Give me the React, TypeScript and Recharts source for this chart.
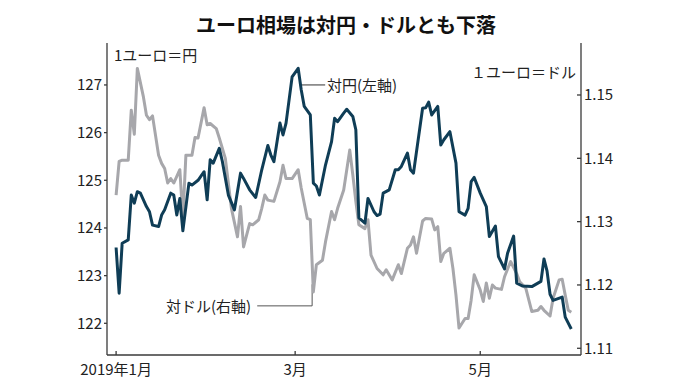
import { LineChart, Line, XAxis, YAxis, ReferenceLine } from "recharts";

// days counted from 2019-01-01
const yenDays = [
  0, 1, 2, 4, 5, 6, 7, 8, 10, 11,
  12, 14, 15, 16, 18, 19, 20, 21, 22, 24,
  25, 27, 29, 30, 31, 32, 34, 35, 37, 39,
  41, 42, 44, 46, 48, 50, 51, 52, 54, 55,
  56, 58, 60, 61, 62, 64, 65, 66, 67, 69,
  71, 72, 73, 75, 76, 78, 79, 80, 82, 83,
  85, 86, 87, 88, 90, 92, 93, 94, 96, 97,
  98, 101, 102, 103, 104, 106, 107, 108, 110, 112,
  113, 115, 116, 117, 118, 120, 121, 122, 123, 125,
  126, 128, 129, 131, 132, 134, 137, 140, 141, 142,
  143, 144, 147, 148, 150,
];
const yenValues = [
  123.59, 122.63, 123.68, 123.75, 124.69, 124.52, 124.76, 124.73, 124.45, 124.34,
  124.06, 124.03, 124.27, 124.38, 124.73, 124.69, 124.27, 124.62, 123.94, 124.94,
  124.9, 125.0, 125.18, 124.59, 125.43, 125.36, 125.67, 125.4, 124.69, 124.38,
  125.15, 125.04, 124.8, 124.64, 125.22, 125.73, 125.53, 125.39, 126.2, 125.95,
  126.2, 127.17, 127.35, 126.9, 126.55, 126.37, 124.94, 124.88, 124.69, 125.32,
  125.81, 126.3, 126.23, 126.41, 126.49, 126.34, 126.06, 124.21, 124.1, 124.62,
  124.34, 124.26, 124.29, 124.73, 124.8, 125.22, 125.22, 125.29, 125.57, 125.22,
  125.15, 126.51, 126.52, 126.64, 126.37, 126.55, 125.74, 125.85, 126.02, 125.36,
  124.34, 124.27, 124.41, 124.97, 125.06, 124.73, 124.59, 124.45, 123.82, 124.04,
  123.4, 123.14, 123.47, 123.83, 122.84, 122.78, 122.77, 122.88, 123.35, 123.1,
  122.61, 122.48, 122.55, 122.13, 121.88,
];

const usdDays = [
  0, 1, 2, 4, 5, 6, 7, 9, 10, 11,
  12, 14, 15, 16, 17, 18, 19, 21, 22, 23,
  25, 26, 27, 29, 30, 31, 33, 34, 36, 38,
  40, 41, 42, 44, 45, 47, 48, 49, 50, 52,
  54, 55, 56, 58, 60, 61, 63, 64, 65, 66,
  68, 69, 71, 72, 73, 75, 77, 78, 79, 80,
  82, 83, 84, 86, 88, 89, 91, 93, 94, 96,
  97, 98, 99, 101, 102, 104, 105, 106, 107, 108,
  110, 111, 112, 113, 115, 116, 117, 118, 120, 121,
  122, 123, 124, 125, 127, 128, 130, 132, 133, 135,
  137, 139, 140, 141, 143, 144, 146, 147, 148, 149,
  150,
];
const usdValues = [
  1.1342, 1.1395, 1.1397, 1.1397, 1.1476, 1.1438, 1.1542, 1.1497, 1.1468, 1.1461,
  1.1467, 1.1405, 1.1392, 1.1384, 1.1361, 1.1368, 1.1361, 1.1382, 1.1305, 1.1405,
  1.1405, 1.1433, 1.1432, 1.148, 1.1453, 1.1455, 1.1447, 1.1432, 1.14, 1.1321,
  1.1276, 1.1324, 1.126, 1.1297, 1.1295, 1.1303, 1.1321, 1.1342, 1.1334, 1.1332,
  1.1363, 1.1389, 1.1368, 1.1368, 1.1382, 1.1353, 1.1305, 1.1303, 1.1189, 1.1232,
  1.1239, 1.1268, 1.1316, 1.1303, 1.1321, 1.135, 1.1413, 1.1374, 1.1332, 1.1295,
  1.1289, 1.1303, 1.1247, 1.1226, 1.1216, 1.1224, 1.1208, 1.1232, 1.1218, 1.1258,
  1.1263, 1.1276, 1.125, 1.1301, 1.1305, 1.1304, 1.1287, 1.1292, 1.1237, 1.125,
  1.1258, 1.1226, 1.1184, 1.1132, 1.1147, 1.1147, 1.1176, 1.1216, 1.1192, 1.1174,
  1.1203, 1.1179, 1.12, 1.1195, 1.1193, 1.1213, 1.1237, 1.1218, 1.1205, 1.1195,
  1.1158, 1.116, 1.1166, 1.116, 1.1151, 1.1179, 1.1208, 1.1209, 1.1184, 1.116,
  1.1157,
];

const xTickDays = [0, 59, 120];
const xTickLabels = ["2019年1月", "3月", "5月"];
const yenTicks = [122, 123, 124, 125, 126, 127];
const usdTicks = [1.11, 1.12, 1.13, 1.14, 1.15];

const yenData = yenDays.map((d, i) => ({ d, v: yenValues[i] }));
const usdData = usdDays.map((d, i) => ({ d, v: usdValues[i] }));

const NARROW = "'Liberation Sans Narrow', 'Noto Sans CJK JP', sans-serif";
const JP = "'Noto Sans CJK JP', sans-serif";
const AXIS = "#3a3a3a";
const tickStyle = { fill: "#222", fontSize: 15, fontFamily: NARROW };

const label = (extra: React.CSSProperties): React.CSSProperties => ({
  position: "absolute",
  fontFamily: JP,
  fontSize: 15,
  lineHeight: "18px",
  color: "#222",
  whiteSpace: "nowrap",
  ...extra,
});

export default function App() {
  return (
    <div style={{ position: "absolute", left: 0, top: 0, width: 696, height: 391, background: "#fff" }}>
      <div
        style={{
          position: "absolute", left: 0, top: 13, width: 692, textAlign: "center",
          fontFamily: JP, fontWeight: 700, fontSize: 20, lineHeight: "24px", color: "#111",
        }}
      >
        ユーロ相場は対円・ドルとも下落
      </div>
      <LineChart
        width={696}
        height={391}
        margin={{ top: 43, right: 0, bottom: 0, left: 0 }}
        style={{ position: "absolute", left: 0, top: 0 }}
      >
        <XAxis
          dataKey="d"
          type="number"
          domain={[-3, 153.2]}
          allowDataOverflow
          ticks={xTickDays}
          tickFormatter={(v: number) => xTickLabels[xTickDays.indexOf(v)] ?? ""}
          height={36}
          tickSize={-4}
          tickMargin={13}
          tick={tickStyle}
          stroke={AXIS}
          strokeWidth={1.3}
          interval={0}
        />
        <YAxis
          yAxisId="yen"
          orientation="left"
          width={107}
          domain={[121.335, 127.88]}
          allowDataOverflow
          ticks={yenTicks}
          tickSize={3}
          tickMargin={2}
          tick={tickStyle}
          stroke={AXIS}
          strokeWidth={1.3}
          interval={0}
        />
        <YAxis
          yAxisId="usd"
          orientation="right"
          width={115}
          domain={[1.10894, 1.15821]}
          allowDataOverflow
          ticks={usdTicks}
          tickFormatter={(v: number) => v.toFixed(2)}
          tickSize={-4}
          tickMargin={7}
          tick={tickStyle}
          stroke={AXIS}
          strokeWidth={1.3}
          interval={0}
        />
        <ReferenceLine
          yAxisId="yen"
          segment={[{ x: 61.2, y: 127.0 }, { x: 68.9, y: 127.0 }]}
          stroke="#333"
          strokeWidth={1}
          ifOverflow="visible"
        />
        <ReferenceLine
          yAxisId="usd"
          segment={[{ x: 46.5, y: 1.1167 }, { x: 64.6, y: 1.1167 }]}
          stroke="#555"
          strokeWidth={1}
          ifOverflow="visible"
        />
        <ReferenceLine
          yAxisId="usd"
          segment={[{ x: 64.6, y: 1.1167 }, { x: 64.6, y: 1.1201 }]}
          stroke="#555"
          strokeWidth={1}
          ifOverflow="visible"
        />
        <Line
          data={usdData}
          yAxisId="usd"
          dataKey="v"
          type="linear"
          stroke="#a7a7ab"
          strokeWidth={3}
          dot={false}
          strokeLinejoin="round"
          isAnimationActive={false}
        />
        <Line
          data={yenData}
          yAxisId="yen"
          dataKey="v"
          type="linear"
          stroke="#0f3d56"
          strokeWidth={3}
          dot={false}
          strokeLinejoin="round"
          isAnimationActive={false}
        />
      </LineChart>
      <div style={label({ left: 114, top: 46 })}>1ユーロ＝円</div>
      <div style={label({ right: 696 - 576, top: 63 })}>１ユーロ＝ドル</div>
      <div style={label({ left: 327, top: 76 })}>対円(左軸)</div>
      <div style={label({ left: 166, top: 297 })}>対ドル(右軸)</div>
    </div>
  );
}
